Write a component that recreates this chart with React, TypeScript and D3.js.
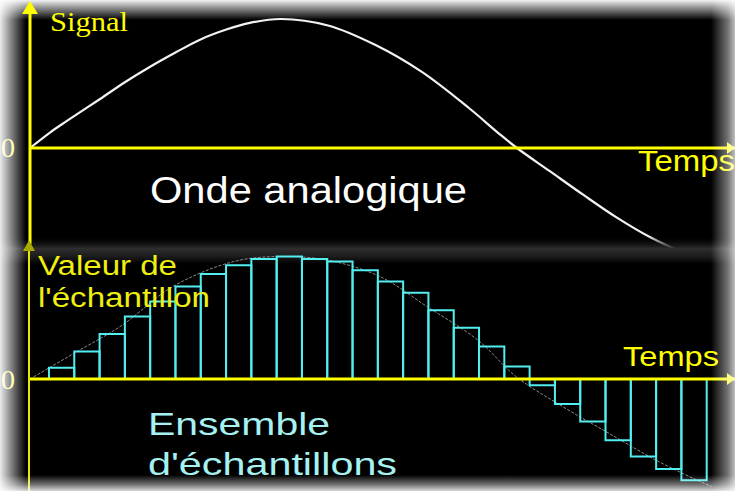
import React from "react";
import * as d3 from "d3";

// ---- Data ----
// Analog wave (top panel): time in sample periods, normalized signal value
const analogTime = [-0.75, 0.04, 0.71, 2.02, 3.0, 4.0, 5.0, 5.97, 7.04, 7.94, 9.17, 11.03, 12.89, 14.74, 16.6, 17.8, 18.5, 19.8, 21.1, 22.45, 23.75, 25.06, 25.6];
const analogValue = [0, 0.12, 0.21, 0.38, 0.51, 0.63, 0.74, 0.84, 0.92, 0.97, 1.0, 0.95, 0.8, 0.59, 0.31, 0.11, 0, -0.18, -0.36, -0.54, -0.69, -0.81, -0.85];

// Reference wave drawn behind the samples (bottom panel)
const guideTime = [-0.75, 1.03, 2.89, 4.9, 7.31, 9.17, 11.03, 13.08, 14.94, 16.96, 18.46, 20.3, 22.1, 24.0, 25.85, 26.2];
const guideValue = [0, 0.21, 0.43, 0.74, 0.94, 0.98, 0.95, 0.82, 0.58, 0.31, 0.02, -0.22, -0.43, -0.65, -0.83, -0.86];

// Sampled values (one per sample period)
const sampleValues = [0.09, 0.22, 0.36, 0.5, 0.62, 0.74, 0.84, 0.91, 0.96, 0.98, 0.96, 0.94, 0.87, 0.78, 0.69, 0.55, 0.41, 0.26, 0.1, -0.05, -0.2, -0.34, -0.49, -0.62, -0.72, -0.81];

const topYLabel = "Signal";
const xLabel = "Temps";
const topCaption = "Onde analogique";
const bottomYLabel = ["Valeur de", "l'échantillon"];
const bottomCaption = ["Ensemble", "d'échantillons"];
const zeroLabel = "0";

const W = 735;
const H = 491;

export default function App() {
  const x = d3.scaleLinear().domain([-0.75, 27]).range([30, 732]);
  const yTop = d3.scaleLinear().domain([-1, 1]).range([277, 19]);
  const yBot = d3.scaleLinear().domain([-1, 1]).range([504, 254]);

  const analogLine = d3
    .line<number>()
    .x((_, i) => x(analogTime[i]))
    .y((d) => yTop(d))
    .curve(d3.curveCatmullRom.alpha(0.5))(analogValue) as string;

  const guideLine = d3
    .line<number>()
    .x((_, i) => x(guideTime[i]))
    .y((d) => yBot(d))
    .curve(d3.curveCatmullRom.alpha(0.5))(guideValue) as string;

  const x0 = x(-0.75);
  const xEnd = W;
  const yT0 = yTop(0);
  const yB0 = yBot(0);
  const sans = "'Liberation Sans', Arial, sans-serif";
  const serif = "'Liberation Serif', 'Times New Roman', serif";

  return (
    <svg width={W} height={H} style={{ display: "block", position: "absolute", left: 0, top: 0 }}>
      <defs>
        <linearGradient id="gTop" x1="0" y1="0" x2="0" y2="1">
          <stop offset="0" stopColor="#fff" stopOpacity={0.95} />
          <stop offset="0.35" stopColor="#fff" stopOpacity={0.6} />
          <stop offset="1" stopColor="#fff" stopOpacity={0} />
        </linearGradient>
        <linearGradient id="gLeft" x1="0" y1="0" x2="1" y2="0">
          <stop offset="0" stopColor="#fff" stopOpacity={0.92} />
          <stop offset="0.45" stopColor="#fff" stopOpacity={0.5} />
          <stop offset="1" stopColor="#fff" stopOpacity={0} />
        </linearGradient>
        <linearGradient id="gRight" x1="1" y1="0" x2="0" y2="0">
          <stop offset="0" stopColor="#fff" stopOpacity={0.75} />
          <stop offset="0.3" stopColor="#fff" stopOpacity={0.45} />
          <stop offset="1" stopColor="#fff" stopOpacity={0} />
        </linearGradient>
        <linearGradient id="gBottom" x1="0" y1="1" x2="0" y2="0">
          <stop offset="0" stopColor="#fff" stopOpacity={0.85} />
          <stop offset="0.4" stopColor="#fff" stopOpacity={0.45} />
          <stop offset="1" stopColor="#fff" stopOpacity={0} />
        </linearGradient>
        <linearGradient id="gBand" x1="0" y1="0" x2="0" y2="1">
          <stop offset="0" stopColor="#000" stopOpacity={0} />
          <stop offset="0.45" stopColor="#2e2e2e" stopOpacity={1} />
          <stop offset="0.75" stopColor="#1a1a1a" stopOpacity={1} />
          <stop offset="1" stopColor="#000" stopOpacity={1} />
        </linearGradient>
      </defs>

      <rect x={0} y={0} width={W} height={H} fill="#000" />
      <rect x={0} y={0} width={W} height={20} fill="url(#gTop)" />

      {/* ---- Top panel ---- */}
      <path d={analogLine} fill="none" stroke="#f2f2f2" strokeWidth={2.2} />
      <line x1={x0} x2={xEnd} y1={yT0} y2={yT0} stroke="#ffff00" strokeWidth={3} />
      <path d={`M${xEnd},${yT0} l-8,-6 l0,12 z`} fill="#ffff00" />
      <text x={50} y={31} fontFamily={serif} fontSize={27} fill="#ffff00" textLength={78} lengthAdjust="spacingAndGlyphs">
        {topYLabel}
      </text>
      <text x={638} y={171} fontFamily={sans} fontSize={29} fill="#ffff00" textLength={97} lengthAdjust="spacingAndGlyphs">
        {xLabel}
      </text>
      <text x={150} y={203} fontFamily={sans} fontSize={36} fill="#ffffff" textLength={317} lengthAdjust="spacingAndGlyphs">
        {topCaption}
      </text>
      <text x={8} y={157} textAnchor="middle" fontFamily={serif} fontSize={28} fill="#ffff66">
        {zeroLabel}
      </text>

      {/* band between panels */}
      <rect x={0} y={236} width={W} height={28} fill="url(#gBand)" />

      {/* top vertical axis */}
      <line x1={x0} x2={x0} y1={10} y2={244} stroke="#ffff00" strokeWidth={3} />
      <path d={`M${x0},1 l-8,13 l16,0 z`} fill="#ffff00" />

      {/* ---- Bottom panel ---- */}
      <path d={guideLine} fill="none" stroke="#8a8a8a" strokeWidth={1} strokeDasharray="3 1.5" />
      {sampleValues.map((v, k) => {
        const xa = x(k);
        const xb = x(k + 1);
        const ya = Math.min(yBot(v), yB0);
        const yb = Math.max(yBot(v), yB0);
        return (
          <rect key={k} x={xa} y={ya} width={xb - xa} height={yb - ya} fill="none" stroke="#52eef0" strokeWidth={2} />
        );
      })}
      <line x1={x0} x2={xEnd} y1={yB0} y2={yB0} stroke="#ffff00" strokeWidth={3} />
      <path d={`M${xEnd},${yB0} l-8,-6 l0,12 z`} fill="#ffff00" />
      <line x1={x0 - 1} x2={x0 - 1} y1={250} y2={H} stroke="#e6e600" strokeWidth={2} />
      <path d={`M${x0 - 1},240 l-6,11 l12,0 z`} fill="#a8a800" />

      <text x={38} y={275} fontFamily={sans} fontSize={27} fill="#eeee10" textLength={139} lengthAdjust="spacingAndGlyphs">
        {bottomYLabel[0]}
      </text>
      <text x={38} y={307} fontFamily={sans} fontSize={27} fill="#eeee10" textLength={172} lengthAdjust="spacingAndGlyphs">
        {bottomYLabel[1]}
      </text>
      <text x={623} y={366} fontFamily={sans} fontSize={27} fill="#ffff00" textLength={96} lengthAdjust="spacingAndGlyphs">
        {xLabel}
      </text>
      <text x={148} y={435} fontFamily={sans} fontSize={32} fill="#a6f2f2" textLength={182} lengthAdjust="spacingAndGlyphs">
        {bottomCaption[0]}
      </text>
      <text x={148} y={475} fontFamily={sans} fontSize={32} fill="#a6f2f2" textLength={249} lengthAdjust="spacingAndGlyphs">
        {bottomCaption[1]}
      </text>
      <text x={8} y={389} textAnchor="middle" fontFamily={serif} fontSize={28} fill="#ffff66">
        {zeroLabel}
      </text>

      {/* edge glows */}
      <rect x={0} y={0} width={26} height={H} fill="url(#gLeft)" />
      <rect x={W - 24} y={0} width={24} height={H} fill="url(#gRight)" />
      <rect x={0} y={H - 16} width={W} height={16} fill="url(#gBottom)" />
    </svg>
  );
}
